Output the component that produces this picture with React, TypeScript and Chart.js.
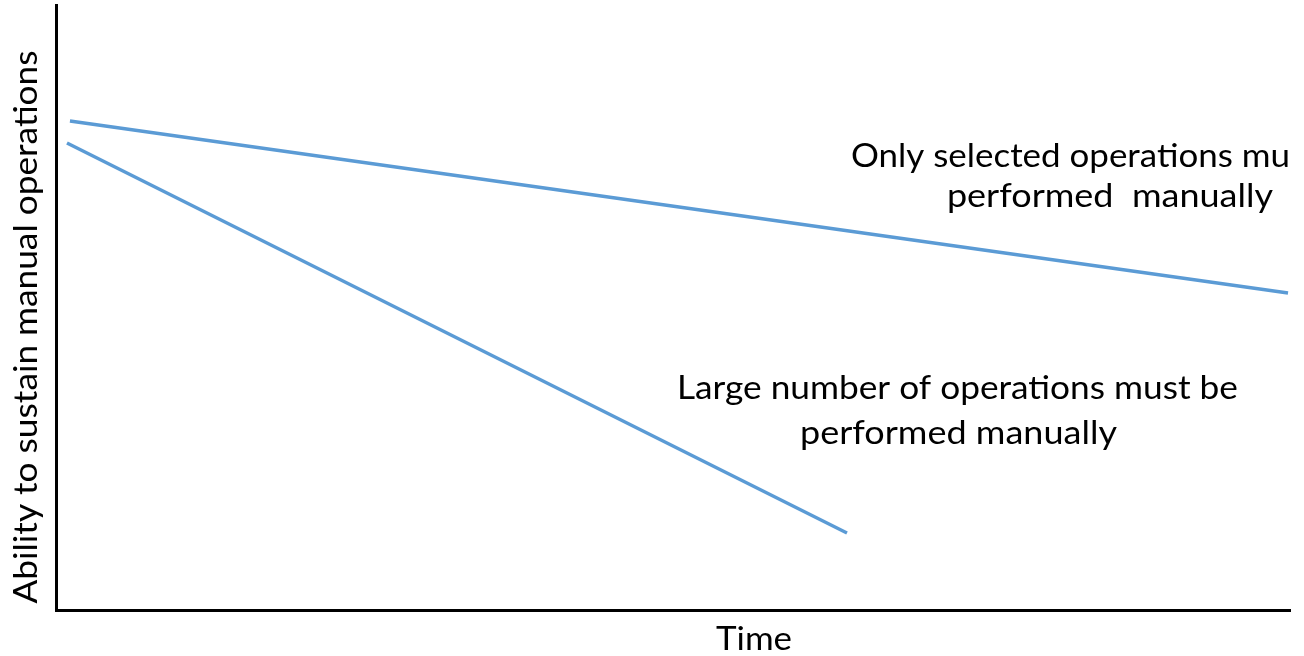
import React, { useEffect, useRef } from "react";
import { Chart, registerables } from "chart.js";

Chart.register(...registerables);

// Series data (x = time, y = ability), in arbitrary units 0..100
const selectedOpsX = [1.13, 99.84];
const selectedOpsY = [80.83, 52.4];
const manyOpsX = [0.89, 64.1];
const manyOpsY = [77.19, 12.73];

const xAxisTitle = "Time";
const yAxisTitle = "Ability to sustain manual operations";

// Annotation texts, placed in data units (left x, baseline y)
const noteTexts = [
  "Only selected operations mu",
  "performed  manually",
  "Large number of operations must be",
  "performed manually",
];
const noteX = [64.42, 72.2, 50.32, 60.29];
const noteY = [73.22, 66.61, 34.88, 27.44];
const noteWidths = [439, 326, 561, 317];

const LINE_COLOR = "#5b9bd5";
const FONT = "33px Lato, 'Open Sans', sans-serif";

// draw text with left edge at (x, y baseline) stretched/compressed to width w
function fitText(ctx: CanvasRenderingContext2D, text: string, x: number, y: number, w: number, align: "left" | "center") {
  const m = ctx.measureText(text).width;
  const s = w / m;
  ctx.save();
  ctx.translate(x, y);
  ctx.scale(s, 1);
  ctx.textAlign = align;
  ctx.fillText(text, 0, 0);
  ctx.restore();
}

const textPlugin = {
  id: "textNotes",
  afterDraw(chart: any) {
    const { ctx, chartArea, scales } = chart;
    const xs = scales.x;
    const ys = scales.y;
    ctx.save();
    ctx.fillStyle = "#000";
    ctx.font = FONT;
    ctx.textBaseline = "alphabetic";
    for (let i = 0; i < noteTexts.length; i++) {
      const px = xs.getPixelForValue(noteX[i]);
      const py = ys.getPixelForValue(noteY[i]);
      fitText(ctx, noteTexts[i], px, py, noteWidths[i], "left");
    }
    // x title
    fitText(ctx, xAxisTitle, 754, chartArea.bottom + 40, 76, "center");
    // y title
    ctx.translate(chartArea.left - 19, 327);
    ctx.rotate(-Math.PI / 2);
    fitText(ctx, yAxisTitle, 0, 0, 553, "center");
    ctx.restore();
  },
};

export default function App() {
  const ref = useRef<HTMLCanvasElement | null>(null);
  useEffect(() => {
    if (!ref.current) return;
    const toPts = (xs: number[], ys: number[]) => xs.map((x, i) => ({ x, y: ys[i] }));
    const chart = new Chart(ref.current, {
      type: "line",
      data: {
        datasets: [
          {
            label: "Only selected operations",
            data: toPts(selectedOpsX, selectedOpsY),
            borderColor: LINE_COLOR,
            borderWidth: 3.5,
            pointRadius: 0,
            fill: false,
          },
          {
            label: "Large number of operations",
            data: toPts(manyOpsX, manyOpsY),
            borderColor: LINE_COLOR,
            borderWidth: 3.5,
            pointRadius: 0,
            fill: false,
          },
        ],
      },
      options: {
        animation: false,
        responsive: true,
        maintainAspectRatio: false,
        layout: { padding: { left: 56, top: 5, right: 14, bottom: 46 } },
        plugins: {
          legend: { display: false },
          tooltip: { enabled: false },
          title: { display: false },
        },
        scales: {
          x: {
            type: "linear",
            min: 0,
            max: 100,
            grid: { display: false, drawTicks: false },
            ticks: { display: false },
            border: { display: true, color: "#000", width: 3 },
          },
          y: {
            type: "linear",
            min: 0,
            max: 100,
            grid: { display: false, drawTicks: false },
            ticks: { display: false },
            border: { display: true, color: "#000", width: 3 },
          },
        },
      },
      plugins: [textPlugin],
    });
    return () => chart.destroy();
  }, []);
  return (
    <div style={{ position: "fixed", left: 0, top: 0, width: 1304, height: 656, background: "#fff" }}>
      <canvas ref={ref} />
    </div>
  );
}
